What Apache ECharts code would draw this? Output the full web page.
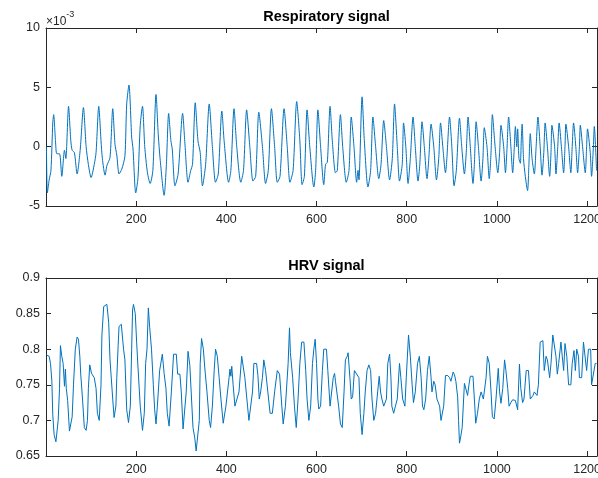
<!DOCTYPE html>
<html><head><meta charset="utf-8">
<script src="https://cdn.jsdelivr.net/npm/echarts@6/dist/echarts.min.js"></script>
<style>html,body{margin:0;padding:0;background:#fff;overflow:hidden}#c{width:598px;height:478px}</style>
</head><body><div id="c"></div>
<script>
const respX = [1,3,7,11,15,17,21,24,30,35,41,44,50,55,58,63,69,76,83,89,94,100,107,111,117,122,125,131,135,142,148,153,157,162,168,175,179,184,190,193,199,204,209,214,219,225,231,237,244,249,253,262,267,272,277,280,286,293,303,308,315,321,325,331,337,342,347,354,362,369,376,382,390,395,405,410,417,423,432,438,445,452,459,465,472,480,487,493,500,507,513,519,528,535,541,548,556,563,568,573,579,585,594,598,603,609,616,620,624,630,635,642,646,653,658,666,672,677,683,689,692,694,701,706,714,720,725,731,738,743,749,755,762,768,773,779,784,790,793,798,803,808,814,819,825,829,834,839,845,849,854,860,866,871,875,880,886,889,895,900,905,910,917,922,928,932,936,941,947,950,954,959,965,969,972,978,983,987,990,996,1002,1006,1009,1015,1019,1022,1026,1031,1035,1038,1041,1044,1046,1049,1052,1054,1056,1059,1063,1068,1071,1074,1078,1083,1087,1091,1096,1100,1104,1107,1112,1117,1120,1122,1128,1131,1135,1138,1143,1148,1151,1153,1159,1164,1167,1170,1175,1179,1183,1185,1190,1196,1199,1201,1207,1210,1214,1216,1221];
const respY = [0,-3.9,-2.8,-2.0,2.0,2.7,0.5,-0.6,-0.6,-2.5,-0.3,-1.0,3.4,0.5,-0.3,-0.5,-2.3,-0.2,3.3,0,-1.5,-2.6,-1.5,-0.5,3.4,0.5,-1.0,-2.4,-1.6,-0.9,3.2,0.2,-0.7,-2.3,-1.9,-0.8,3.6,5.2,0.8,-0.2,-3.9,-2.6,1.8,3.4,0,-2.2,-3.1,-2.0,4.4,1.0,-1.0,-4.1,-1.5,2.8,0.5,-0.2,-3.3,-2.3,2.8,0.3,-3.0,-2.0,-1.5,3.7,0.5,-0.5,-3.3,-1.5,3.6,0,-3.0,-2.3,3.0,0.5,-3.0,-2.0,3.2,0,-3.0,-2.0,3.1,0,-2.9,-2.5,2.9,0,-3.1,-2.0,3.2,0,-3.0,-2.5,3.2,0,-3.0,-2.0,3.8,0.5,-3.2,-2.5,3.1,0,-3.4,-2.0,3.1,0,-3.2,-1.5,-1.3,3.4,0.5,-2.2,-2.0,2.7,0,-3.0,-2.0,2.5,0,-3.0,-2.0,-2.8,4.2,0.5,-3.4,-2.0,2.5,0,-2.7,-1.5,2.2,0,-2.8,-1.0,3.6,0,-2.9,-1.5,2.0,0,-3.1,-1.0,2.5,0,-2.9,-1.5,2.1,0,-2.7,-1.0,1.9,0,-2.8,-1.0,2.0,0,-2.2,-1.0,2.5,0,-3.3,-2.0,2.4,0,-2.3,-0.5,2.5,0,-3.1,-1.5,2.1,0,-2.9,-1.0,1.6,0,-2.7,-0.5,2.7,0,-2.2,-0.5,1.8,0,-2.2,-0.5,2.5,0,-2.2,-0.5,1.7,0,1.5,-1.0,-1.4,0.5,1.9,-1.0,-2.5,-3.7,-1.5,1.1,-1.0,-2.3,0,2.5,0,-2.4,-0.5,2.0,0,-2.5,-0.5,1.8,0,-2.3,0,2.0,0,-2.2,0,1.9,0,-2.2,0,2.0,0,-2.2,0,1.8,0,-2.2,0,1.5,-0.5,-2.5,0,1.7,-2.0];
const hrvX = [1,4,7,10,13,15,18,22,24,27,30,32,35,38,41,43,45,48,52,55,58,61,65,69,72,75,77,81,85,89,92,94,97,101,107,111,114,118,122,124,128,135,139,142,148,151,155,157,160,162,167,172,175,179,183,187,190,192,194,198,201,204,209,214,218,221,224,227,230,234,238,241,244,247,252,258,262,266,269,273,278,283,289,292,297,300,304,307,311,315,319,322,326,330,333,336,340,342,345,349,352,357,362,365,369,373,376,380,384,388,393,399,406,408,410,412,415,419,422,428,434,437,441,447,450,454,458,461,467,470,473,476,480,483,487,492,497,502,507,513,518,523,526,531,537,540,542,547,551,555,559,563,567,572,576,579,583,587,591,594,597,600,603,605,609,613,616,622,625,630,632,637,640,642,646,649,653,657,661,664,668,670,674,677,680,684,689,694,697,701,705,708,712,716,720,723,727,731,734,739,742,745,749,755,758,762,765,767,771,775,779,784,787,791,796,799,804,808,812,815,819,824,828,832,835,838,842,846,850,854,856,860,863,867,873,876,878,882,886,891,895,898,903,906,909,913,915,917,920,923,928,932,935,938,941,947,951,953,957,961,965,968,970,976,979,983,987,990,994,998,1003,1006,1009,1013,1017,1020,1024,1027,1031,1035,1041,1046,1050,1053,1057,1060,1065,1070,1074,1080,1083,1089,1092,1096,1102,1105,1109,1112,1117,1120,1124,1128,1131,1134,1137,1142,1145,1148,1151,1155,1159,1164,1167,1171,1174,1177,1181,1183,1188,1192,1196,1199,1203,1208,1210,1214,1218,1221];
const hrvY = [0.792,0.792,0.79,0.78,0.755,0.708,0.68,0.67,0.672,0.70,0.745,0.805,0.79,0.78,0.748,0.772,0.745,0.728,0.685,0.685,0.705,0.75,0.80,0.817,0.814,0.79,0.765,0.73,0.69,0.686,0.70,0.745,0.778,0.766,0.76,0.745,0.71,0.70,0.75,0.82,0.86,0.863,0.838,0.785,0.73,0.704,0.72,0.76,0.805,0.832,0.835,0.80,0.785,0.715,0.697,0.72,0.80,0.855,0.863,0.85,0.81,0.775,0.72,0.686,0.71,0.78,0.80,0.858,0.83,0.80,0.75,0.715,0.695,0.72,0.77,0.793,0.766,0.745,0.71,0.692,0.74,0.793,0.793,0.765,0.765,0.74,0.688,0.688,0.74,0.797,0.777,0.778,0.69,0.675,0.657,0.657,0.70,0.78,0.815,0.80,0.775,0.74,0.70,0.69,0.72,0.77,0.80,0.79,0.76,0.73,0.696,0.72,0.76,0.772,0.762,0.776,0.75,0.72,0.718,0.74,0.79,0.788,0.76,0.72,0.70,0.70,0.74,0.78,0.78,0.763,0.73,0.74,0.76,0.785,0.77,0.74,0.71,0.71,0.74,0.77,0.765,0.72,0.695,0.72,0.78,0.83,0.795,0.76,0.72,0.69,0.73,0.78,0.81,0.81,0.77,0.73,0.70,0.72,0.78,0.80,0.814,0.78,0.73,0.716,0.72,0.77,0.80,0.80,0.77,0.72,0.72,0.76,0.766,0.755,0.755,0.72,0.695,0.69,0.74,0.785,0.79,0.795,0.76,0.73,0.733,0.77,0.765,0.76,0.71,0.68,0.71,0.74,0.77,0.778,0.77,0.73,0.70,0.71,0.73,0.762,0.74,0.73,0.72,0.73,0.78,0.793,0.76,0.72,0.71,0.72,0.73,0.78,0.76,0.73,0.72,0.76,0.82,0.79,0.75,0.725,0.74,0.78,0.79,0.76,0.72,0.715,0.73,0.77,0.79,0.76,0.74,0.755,0.75,0.73,0.72,0.70,0.70,0.72,0.763,0.763,0.76,0.755,0.768,0.764,0.755,0.733,0.70,0.668,0.678,0.69,0.752,0.752,0.735,0.75,0.762,0.762,0.72,0.696,0.71,0.73,0.74,0.742,0.73,0.76,0.79,0.78,0.74,0.705,0.702,0.73,0.773,0.74,0.724,0.745,0.785,0.77,0.745,0.72,0.725,0.729,0.728,0.715,0.779,0.745,0.725,0.73,0.77,0.77,0.73,0.735,0.74,0.735,0.75,0.81,0.812,0.77,0.79,0.785,0.76,0.78,0.82,0.82,0.79,0.765,0.78,0.81,0.79,0.77,0.808,0.79,0.75,0.75,0.78,0.798,0.77,0.80,0.79,0.76,0.76,0.81,0.808,0.77,0.80,0.80,0.75,0.75,0.78,0.78];

const titles = ['Respiratory signal','HRV signal'];
const respTicks = [-5, 10, 5];
const hrvTicks = [0.65, 0.9, 0.05];
const xRange = [0, 1222, 200];

const C = '#262626', F = 'Liberation Sans, Arial, Helvetica, sans-serif', FS = 12.5;
const pair = (xs, ys) => xs.map((x, i) => [x, ys[i]]);

function xAx(g, pos) {
  return { type:'value', gridIndex:g, position:pos, min:xRange[0], max:xRange[1], interval:xRange[2],
    axisLine:{show:true, onZero:false, lineStyle:{color:C, width:1}},
    axisTick:{show:true, inside:true, length:5, lineStyle:{color:C}},
    axisLabel:{show:pos==='bottom', color:C, fontFamily:F, fontSize:FS, margin:7, showMinLabel:false, showMaxLabel:false,
      hideOverlap:false, formatter:v => (v>0 && v%200===0) ? String(v) : ''},
    splitLine:{show:false} };
}
function yAx(g, pos, t) {
  return { type:'value', gridIndex:g, position:pos, min:t[0], max:t[1], interval:t[2],
    axisLine:{show:true, onZero:false, lineStyle:{color:C, width:1}},
    axisTick:{show:true, inside:true, length:5, lineStyle:{color:C}},
    axisLabel:{show:pos==='left', color:C, fontFamily:F, fontSize:FS, margin:6,
      formatter:v => String(Math.round(v*1000)/1000)},
    splitLine:{show:false} };
}

const chart = echarts.init(document.getElementById('c'), null, {renderer:'canvas', width:598, height:478});
chart.setOption({
  animation:false,
  backgroundColor:'#fff',
  title:[
    {text:titles[0], left:321.5, top:4, textAlign:'center', textStyle:{fontFamily:F, fontSize:14.5, fontWeight:'bold', color:'#000'}},
    {text:titles[1], left:321.5, top:253, textAlign:'center', textStyle:{fontFamily:F, fontSize:14.5, fontWeight:'bold', color:'#000'}}
  ],
  grid:[
    {left:46, width:551, top:28, height:178, containLabel:false, outerBoundsMode:'none'},
    {left:46, width:551, top:278, height:178, containLabel:false, outerBoundsMode:'none'}
  ],
  xAxis:[xAx(0,'bottom'), xAx(0,'top'), xAx(1,'bottom'), xAx(1,'top')],
  yAxis:[yAx(0,'left',respTicks), yAx(0,'right',respTicks), yAx(1,'left',hrvTicks), yAx(1,'right',hrvTicks)],
  graphic:[{
    type:'text', left:46, top:10,
    style:{text:'{a|×10}{b|-3}', rich:{
      a:{fontFamily:F, fontSize:12, fill:C, padding:[6,0,0,0]},
      b:{fontFamily:F, fontSize:9, fill:C, verticalAlign:'top', padding:[0,0,6,0]}
    }}
  }],
  series:[
    {type:'line', xAxisIndex:0, yAxisIndex:0, data:pair(respX, respY), showSymbol:false, symbol:'none', smooth:0.25,
      lineStyle:{color:'#0072BD', width:1}},
    {type:'line', xAxisIndex:2, yAxisIndex:2, data:pair(hrvX, hrvY), showSymbol:false, symbol:'none', smooth:false,
      lineStyle:{color:'#0072BD', width:1}}
  ]
});
</script></body></html>
